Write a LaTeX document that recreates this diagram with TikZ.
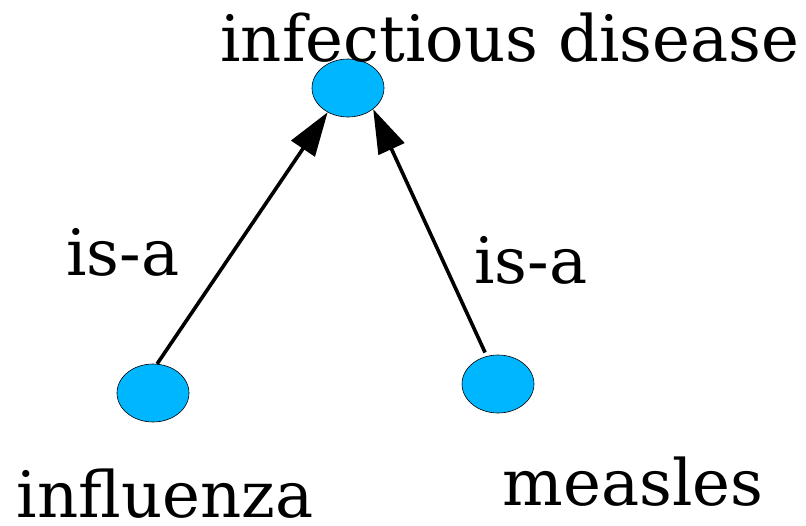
\documentclass[tikz,border=0pt]{standalone}
\usepackage{fontspec}
\setmainfont{DejaVu Serif}
\usetikzlibrary{shapes.geometric,arrows.meta}
\definecolor{BlobBlue}{RGB}{0,182,255}
\tikzset{
	blob/.style={ellipse, draw=black, line width=0.6pt, fill=BlobBlue, minimum width=72pt, minimum height=58pt, inner sep=0pt},
	word/.style={anchor=base, inner sep=0pt, font=\fontsize{64}{64}\selectfont},
	isa/.style={black, line width=3.6pt, -{Triangle[length=44pt,width=28pt]}}
}
\begin{document}
\begin{tikzpicture}[x=1pt, y=-1pt]
	\useasboundingbox (0,0) rectangle (806,525);
	\node[blob] (disease) at (348,88) {};
	\node[blob] (flu) at (153,393) {};
	\node[blob] (measles) at (498,384) {};

	\node[word] (diseasetext) at (510,61) {infectious disease};
	\node[word] (flutext) at (165,517) {influenza};
	\node[word] (measlestext) at (633,505) {measles};

	\node[word] (isaleft) at (123,275) {is-a};
	\node[word] (isaright) at (531,283) {is-a};
	\draw[isa] (flu.82) -- (disease.-130);
	\draw[isa, shorten <=4pt] (measles.112) -- (disease.-40);
\end{tikzpicture}
\end{document}
